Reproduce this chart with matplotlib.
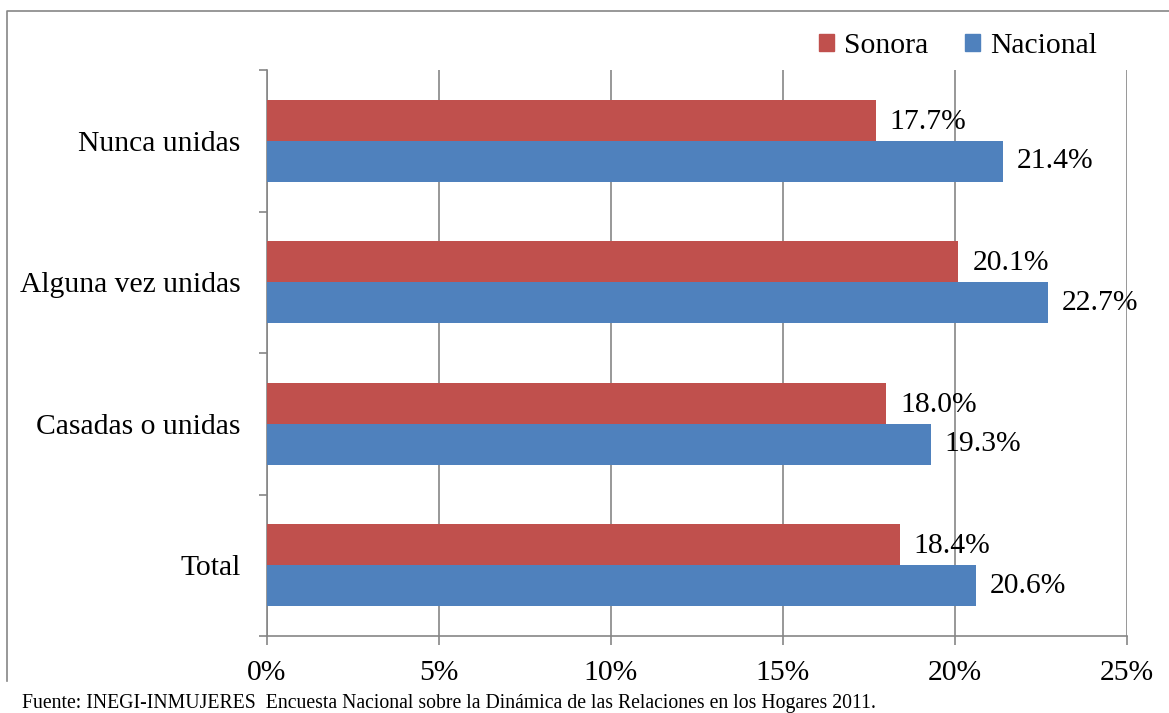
import numpy as np
import matplotlib.pyplot as plt
from matplotlib.lines import Line2D

plt.rcParams['font.family'] = ['Liberation Serif', 'DejaVu Serif']

categorias = ['Nunca unidas', 'Alguna vez unidas', 'Casadas o unidas', 'Total']
sonora = [17.7, 20.1, 18.0, 18.4]
nacional = [21.4, 22.7, 19.3, 20.6]
xticks = [0, 5, 10, 15, 20, 25]

rojo = '#C0504D'
azul = '#4F81BD'
gris = '#868686'
fs = 21.3

fig = plt.figure(figsize=(11.69, 7.13), dpi=100)
ax = fig.add_axes([267 / 1169, 1 - 636 / 713, 860 / 1169, 566 / 713])

y = np.arange(len(categorias))
h = 0.29
ax.barh(y - h / 2, sonora, height=h, color=rojo, label='Sonora', zorder=3)
ax.barh(y + h / 2, nacional, height=h, color=azul, label='Nacional', zorder=3)

for yi, v in zip(y, sonora):
    ax.annotate(f'{v:.1f}%', (v, yi - h / 2), xytext=(10, -1), textcoords='offset points',
                va='center', ha='left', fontsize=fs, zorder=4)
for yi, v in zip(y, nacional):
    ax.annotate(f'{v:.1f}%', (v, yi + h / 2), xytext=(10, 0), textcoords='offset points',
                va='center', ha='left', fontsize=fs, zorder=4)

ax.set_xlim(0, 25)
ax.set_ylim(len(categorias) - 0.5, -0.5)
ax.set_xticks(xticks)
ax.set_xticklabels([f'{t}%' for t in xticks], fontsize=fs)
ax.set_yticks(y)
ax.set_yticklabels(categorias, fontsize=fs)
ax.set_yticks(np.arange(len(categorias) + 1) - 0.5, minor=True)

ax.tick_params(axis='y', which='major', length=0, pad=19)
ax.tick_params(axis='y', which='minor', length=6, width=1.2, color=gris, direction='out')
ax.tick_params(axis='x', length=6.5, width=1.2, color=gris, direction='out', pad=11)

ax.grid(axis='x', color=gris, lw=1.2, zorder=0)
for s in ['top', 'right']:
    ax.spines[s].set_visible(False)
for s in ['left', 'bottom']:
    ax.spines[s].set_color(gris)
    ax.spines[s].set_linewidth(1.2)

handles = [plt.Rectangle((0, 0), 1, 1, color=rojo), plt.Rectangle((0, 0), 1, 1, color=azul)]
fig.legend(handles, ['Sonora', 'Nacional'], loc='center right',
           bbox_to_anchor=(1109 / 1169, 1 - 46 / 713), ncol=2, frameon=False,
           fontsize=fs, handlelength=0.5, handleheight=0.5, handletextpad=0.35,
           columnspacing=1.25, borderaxespad=0)

# marco del gráfico (solo bordes superior e izquierdo visibles)
fig.add_artist(Line2D([7 / 1169, 7 / 1169, 1], [1 - 681 / 713, 1 - 11 / 713, 1 - 11 / 713],
                      color=gris, lw=1.2, transform=fig.transFigure))

fig.text(22 / 1169, 1 - 708 / 713,
         'Fuente: INEGI-INMUJERES  Encuesta Nacional sobre la Dinámica de las Relaciones en los Hogares 2011.',
         fontsize=14.2, ha='left', va='baseline')

fig.savefig('out.png', dpi=100)
